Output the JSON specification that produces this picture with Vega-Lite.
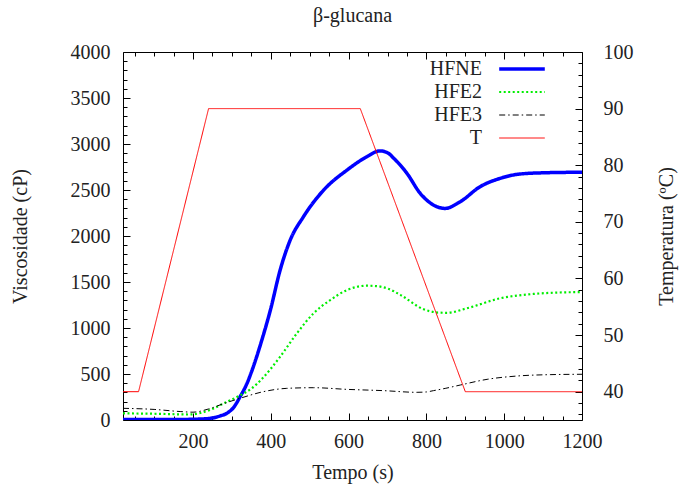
{
  "$schema": "https://vega.github.io/schema/vega-lite/v6.json",
  "width": 459,
  "height": 368,
  "autosize": {"type": "none"},
  "padding": {"left": 123, "top": 52, "right": 99, "bottom": 65},
  "background": "white",
  "title": {"text": "β-glucana", "font": "Liberation Serif", "fontSize": 20, "fontWeight": "normal", "color": "#222", "offset": 16},
  "config": {
    "view": {"stroke": "#000", "strokeWidth": 1},
    "font": "Liberation Serif",
    "axis": {"domain": false, "grid": false, "ticks": true, "tickWidth": 1, "labelFont": "Liberation Serif", "labelFontSize": 20, "labelColor": "#222", "titleFont": "Liberation Serif", "titleFontSize": 20, "titleFontWeight": "normal", "titleColor": "#222", "tickColor": "#000", "labelOverlap": false, "labelFlush": false},
    "legend": {"orient": "none", "legendX": 389, "legendY": 7, "title": null, "symbolType": "M -7.6 0 H 7.6", "symbolSize": 36, "labelAlign": "right", "labelOffset": -50, "labelFontSize": 20, "labelFont": "Liberation Serif", "labelColor": "#222", "rowPadding": 3, "padding": 0}
  },
  "data": {"values": [
    {"s":"HFNE","t":20,"v":5},{"s":"HFNE","t":100,"v":5},{"s":"HFNE","t":150,"v":5},{"s":"HFNE","t":200,"v":8},{"s":"HFNE","t":244,"v":18},{"s":"HFNE","t":270,"v":45},{"s":"HFNE","t":287,"v":73},{"s":"HFNE","t":305,"v":140},{"s":"HFNE","t":321,"v":253},{"s":"HFNE","t":339,"v":400},{"s":"HFNE","t":352,"v":543},{"s":"HFNE","t":377,"v":870},{"s":"HFNE","t":399,"v":1196},{"s":"HFNE","t":424,"v":1630},{"s":"HFNE","t":450,"v":1957},{"s":"HFNE","t":484,"v":2210},{"s":"HFNE","t":536,"v":2500},{"s":"HFNE","t":596,"v":2717},{"s":"HFNE","t":647,"v":2862},{"s":"HFNE","t":680,"v":2925},{"s":"HFNE","t":700,"v":2905},{"s":"HFNE","t":716,"v":2845},{"s":"HFNE","t":750,"v":2681},{"s":"HFNE","t":784,"v":2464},{"s":"HFNE","t":818,"v":2337},{"s":"HFNE","t":848,"v":2300},{"s":"HFNE","t":887,"v":2373},{"s":"HFNE","t":938,"v":2536},{"s":"HFNE","t":990,"v":2627},{"s":"HFNE","t":1041,"v":2674},{"s":"HFNE","t":1110,"v":2688},{"s":"HFNE","t":1200,"v":2693},
    {"s":"HFE2","t":20,"v":72},{"s":"HFE2","t":100,"v":68},{"s":"HFE2","t":190,"v":60},{"s":"HFE2","t":244,"v":110},{"s":"HFE2","t":279,"v":181},{"s":"HFE2","t":322,"v":270},{"s":"HFE2","t":350,"v":340},{"s":"HFE2","t":378,"v":450},{"s":"HFE2","t":424,"v":688},{"s":"HFE2","t":467,"v":942},{"s":"HFE2","t":510,"v":1160},{"s":"HFE2","t":553,"v":1304},{"s":"HFE2","t":596,"v":1413},{"s":"HFE2","t":647,"v":1460},{"s":"HFE2","t":670,"v":1456},{"s":"HFE2","t":700,"v":1430},{"s":"HFE2","t":733,"v":1360},{"s":"HFE2","t":793,"v":1203},{"s":"HFE2","t":830,"v":1168},{"s":"HFE2","t":853,"v":1165},{"s":"HFE2","t":904,"v":1214},{"s":"HFE2","t":990,"v":1323},{"s":"HFE2","t":1075,"v":1370},{"s":"HFE2","t":1161,"v":1388},{"s":"HFE2","t":1200,"v":1390},
    {"s":"HFE3","t":20,"v":127},{"s":"HFE3","t":100,"v":115},{"s":"HFE3","t":167,"v":92},{"s":"HFE3","t":200,"v":85},{"s":"HFE3","t":240,"v":120},{"s":"HFE3","t":280,"v":180},{"s":"HFE3","t":321,"v":236},{"s":"HFE3","t":381,"v":308},{"s":"HFE3","t":441,"v":344},{"s":"HFE3","t":510,"v":351},{"s":"HFE3","t":596,"v":333},{"s":"HFE3","t":690,"v":319},{"s":"HFE3","t":776,"v":301},{"s":"HFE3","t":800,"v":305},{"s":"HFE3","t":818,"v":319},{"s":"HFE3","t":850,"v":345},{"s":"HFE3","t":887,"v":380},{"s":"HFE3","t":956,"v":442},{"s":"HFE3","t":1033,"v":478},{"s":"HFE3","t":1118,"v":493},{"s":"HFE3","t":1200,"v":497},
    {"s":"T","t":20,"v":40},{"s":"T","t":60,"v":40},{"s":"T","t":240,"v":90},{"s":"T","t":630,"v":90},{"s":"T","t":900,"v":40},{"s":"T","t":1200,"v":40}
  ]},
  "layer": [
    {
      "transform": [{"filter": "datum.s !== 'T'"}],
      "mark": {"type": "line", "interpolate": "monotone", "clip": true},
      "encoding": {
        "x": {"field": "t", "type": "quantitative", "scale": {"domain": [20, 1200], "nice": false, "zero": false},
          "axis": {"orient": "bottom", "title": "Tempo (s)", "format": "d",
            "values": [50,100,150,200,250,300,350,400,450,500,550,600,650,700,750,800,850,900,950,1000,1050,1100,1150,1200],
            "labelExpr": "datum.value % 200 === 0 ? datum.label : ''",
            "tickSize": {"condition": {"test": "datum.value % 200 === 0", "value": -7}, "value": -4},
            "labelPadding": 18, "titlePadding": 8}},
        "y": {"field": "v", "type": "quantitative", "scale": {"domain": [0, 4000], "nice": false},
          "axis": {"orient": "left", "title": "Viscosidade (cP)", "format": "d",
            "values": [0,100,200,300,400,500,600,700,800,900,1000,1100,1200,1300,1400,1500,1600,1700,1800,1900,2000,2100,2200,2300,2400,2500,2600,2700,2800,2900,3000,3100,3200,3300,3400,3500,3600,3700,3800,3900,4000],
            "labelExpr": "datum.value % 500 === 0 ? datum.label : ''",
            "tickSize": {"condition": {"test": "datum.value % 500 === 0", "value": -7}, "value": -4},
            "labelPadding": 20, "titlePadding": 40}},
        "color": {"field": "s", "type": "nominal", "scale": {"domain": ["HFNE", "HFE2", "HFE3", "T"], "range": ["#0000ff", "#00ee00", "#000000", "#ff0000"]}},
        "strokeDash": {"field": "s", "type": "nominal", "scale": {"domain": ["HFNE", "HFE2", "HFE3", "T"], "range": [[1, 0], [2, 2.5], [6, 3, 1.5, 3], [1, 0]]}},
        "strokeWidth": {"field": "s", "type": "nominal", "scale": {"type": "ordinal", "domain": ["HFNE", "HFE2", "HFE3", "T"], "range": [3.5, 2.2, 1, 1]}}
      }
    },
    {
      "transform": [{"filter": "datum.s === 'T'"}],
      "mark": {"type": "line", "clip": true},
      "encoding": {
        "x": {"field": "t", "type": "quantitative", "scale": {"domain": [20, 1200], "nice": false, "zero": false},
          "axis": {"orient": "top", "title": null, "labels": false,
            "values": [50,100,150,200,250,300,350,400,450,500,550,600,650,700,750,800,850,900,950,1000,1050,1100,1150,1200],
            "tickSize": {"condition": {"test": "datum.value % 200 === 0", "value": -7}, "value": -4}}},
        "y": {"field": "v", "type": "quantitative", "scale": {"domain": [35, 100], "nice": false, "zero": false},
          "axis": {"orient": "right", "title": "Temperatura (ºC)", "titleAngle": 270, "format": "d",
            "values": [36,38,40,42,44,46,48,50,52,54,56,58,60,62,64,66,68,70,72,74,76,78,80,82,84,86,88,90,92,94,96,98,100],
            "labelExpr": "datum.value % 10 === 0 ? datum.label : ''",
            "tickSize": {"condition": {"test": "datum.value % 10 === 0", "value": -7}, "value": -4},
            "labelPadding": 28, "titlePadding": 43}},
        "color": {"field": "s", "type": "nominal", "scale": {"domain": ["HFNE", "HFE2", "HFE3", "T"], "range": ["#0000ff", "#00ee00", "#000000", "#ff0000"]}},
        "strokeDash": {"field": "s", "type": "nominal", "scale": {"domain": ["HFNE", "HFE2", "HFE3", "T"], "range": [[1, 0], [2, 2.5], [6, 3, 1.5, 3], [1, 0]]}},
        "strokeWidth": {"field": "s", "type": "nominal", "scale": {"type": "ordinal", "domain": ["HFNE", "HFE2", "HFE3", "T"], "range": [3.5, 2.2, 1, 1]}}
      }
    }
  ],
  "resolve": {"scale": {"y": "independent"}, "axis": {"x": "independent", "y": "independent"}}
}
